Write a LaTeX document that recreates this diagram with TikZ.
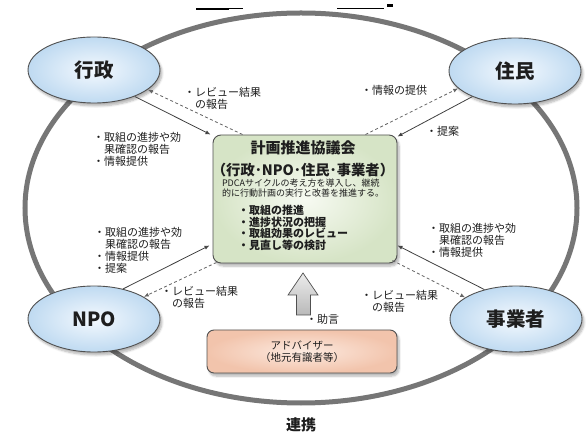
\documentclass[tikz,border=0pt]{standalone}
\usepackage{fontspec}
\setmainfont{Noto Sans CJK JP}
\usetikzlibrary{shapes.geometric,arrows.meta,calc,shadows,shadows.blur}
\definecolor{ringgray}{HTML}{767676}
\definecolor{edgegray}{HTML}{505050}
\definecolor{ellin}{HTML}{F4F9FE}
\definecolor{ellout}{HTML}{BFDAF1}
\definecolor{boxin}{HTML}{F7FAF2}
\definecolor{boxout}{HTML}{D6E4C6}
\definecolor{advin}{HTML}{FCEAE0}
\definecolor{advout}{HTML}{F2C4AC}
\definecolor{txt}{HTML}{1E1E1E}
\begin{document}
\begin{tikzpicture}[x=1pt,y=-1pt,
  softshadow/.style={blur shadow={shadow xshift=2pt, shadow yshift=-3pt, shadow blur steps=6, shadow opacity=30}},
  party/.style={ellipse, draw=edgegray, line width=0.9pt, inner color=ellin, outer color=ellout,
    minimum width=132pt, minimum height=66pt, inner sep=0pt,
    font=\fontsize{19.5}{20}\selectfont\bfseries, text=txt, softshadow},
  mainbox/.style={rectangle, rounded corners=8pt, draw=edgegray, line width=0.9pt,
    inner color=boxin, outer color=boxout, minimum width=184pt, minimum height=128pt, softshadow},
  advbox/.style={rectangle, rounded corners=7pt, draw=edgegray, line width=0.9pt,
    inner color=advin, outer color=advout, minimum width=190pt, minimum height=43pt,
    align=center, text=txt, font=\fontsize{10.5}{12}\selectfont, softshadow},
  lbl/.style={font=\fontsize{11}{11.8}\selectfont, align=left, inner sep=0pt, anchor=north west, text=txt},
  solidarr/.style={draw=black!75, line width=0.8pt, -{Latex[length=5pt,width=4pt]}},
  dasharr/.style={draw=black!60, line width=0.8pt, dash pattern=on 3pt off 2.5pt, -{Latex[length=5pt,width=4pt]}}
]
\useasboundingbox (0,0) rectangle (586,435);
% top artifacts
\draw[line width=1.8pt] (196,9) -- (229,9);
\draw[line width=0.8pt] (229,8.5) -- (243,8.5);
\draw[line width=0.8pt] (337,8.3) -- (384,8.3);
\fill (387,4) rectangle (393,7.3);
% ring
\draw[ringgray, line width=5pt] (301,208) ellipse [x radius=276pt, y radius=195pt];
\node[font=\fontsize{15}{16}\selectfont\bfseries, text=txt] (renkei) at (301,425) {連携};

% parties
\node[party] (gyosei) at (94,70) {行政};
\node[party] (jumin) at (515,71) {住民};
\node[party] (npo) at (94,319) {NPO};
\node[party] (jigyo) at (516,319) {事業者};

% central box
\node[mainbox] (box) at (305,199) {};
\node[font=\fontsize{15}{16}\selectfont\bfseries, text=txt] (title) at (303,148) {計画推進協議会};
\node[font=\fontsize{14.3}{15}\selectfont\bfseries, text=txt] (members) at (303,170) {（行政･NPO･住民･事業者）};
\node[font=\fontsize{9}{10}\selectfont, text=txt, align=left] (pdca) at (303,188.5) {PDCAサイクルの考え方を導入し、継続\\的に行動計画の実行と改善を推進する。};
\node[lbl, font=\fontsize{11}{11.5}\selectfont\bfseries] (tasks) at (238,205) {・取組の推進\\・進捗状況の把握\\・取組効果のレビュー\\・見直し等の検討};

% adviser
\node[advbox] (adv) at (302,351.5) {アドバイザー\\（地元有識者等）};
\draw[draw=edgegray, line width=0.7pt, top color=gray!15, bottom color=gray!55]
  (303,273) -- (318,295) -- (310.5,295) -- (310.5,315) -- (296.5,315) -- (296.5,295) -- (288,295) -- cycle;
\node[lbl] (jogen) at (306,314.5) {・助言};

% labels
\node[lbl] (l1) at (184,87.5) {・レビュー結果\\\phantom{・}の報告};
\node[lbl] (l2) at (93,132.5) {・取組の進捗や効\\\phantom{・}果確認の報告\\・情報提供};
\node[lbl] (r1) at (361,85.5) {・情報の提供};
\node[lbl] (r2) at (426,126.5) {・提案};
\node[lbl] (bl1) at (94,227.5) {・取組の進捗や効\\\phantom{・}果確認の報告\\・情報提供\\・提案};
\node[lbl] (bl2) at (161,286.5) {・レビュー結果\\\phantom{・}の報告};
\node[lbl] (br1) at (428,223.5) {・取組の進捗や効\\\phantom{・}果確認の報告\\・情報提供};
\node[lbl] (br2) at (361,290.5) {・レビュー結果\\\phantom{・}の報告};

% connectors
\draw[solidarr] (gyosei.-33) -- ($(box.north west)+(-2,0)$);
\draw[dasharr] ($(box.north west)+(30,0)$) -- (gyosei.-20);
\draw[dasharr] ($(box.north east)+(-32,0)$) -- (jumin.197);
\draw[solidarr] (jumin.211) -- ($(box.north east)+(0,2)$);
\draw[solidarr] (npo.46) -- ($(box.south west)+(-3,-18)$);
\draw[dasharr] ($(box.south west)+(4,-1)$) -- (npo.24);
\draw[solidarr] (jigyo.137) -- ($(box.south east)+(0,-18)$);
\draw[dasharr] ($(box.south east)+(-5,-3)$) -- (jigyo.157);
\end{tikzpicture}
\end{document}
